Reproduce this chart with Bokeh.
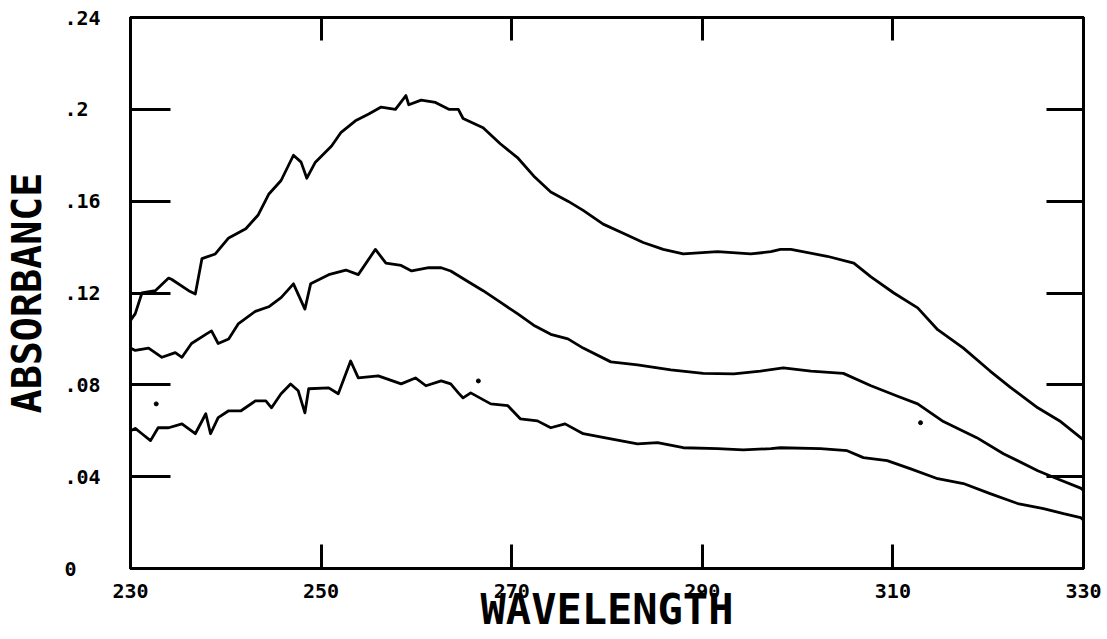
from bokeh.plotting import figure
from bokeh.models import LinearAxis, FixedTicker, Range1d
from bokeh.embed import file_html
from bokeh.resources import INLINE

# Upper curve
wl_a = [230.0, 230.5, 231.2, 232.6, 234.0, 234.3, 236.1, 236.8, 237.5, 238.9, 240.3, 242.1,
        243.4, 244.5, 245.8, 247.1, 247.9, 248.5, 249.4, 251.1, 252.1, 253.6, 255.0, 256.3,
        257.8, 258.9, 259.2, 260.5, 262.0, 263.4, 264.4, 264.9, 267.0, 268.8, 270.6, 272.3,
        274.1, 275.9, 277.5, 279.6, 281.7, 283.8, 285.9, 288.0, 291.6, 295.1, 297.2, 298.2,
        299.3, 303.1, 305.9, 307.7, 310.1, 312.6, 314.7, 317.4, 320.2, 322.3, 325.2, 327.6,
        329.7, 330.0]
abs_a = [0.108, 0.111, 0.120, 0.121, 0.1265, 0.126, 0.121, 0.1196, 0.135, 0.137, 0.144, 0.148,
         0.154, 0.163, 0.169, 0.180, 0.177, 0.170, 0.177, 0.184, 0.190, 0.195, 0.198, 0.201,
         0.200, 0.206, 0.202, 0.204, 0.203, 0.200, 0.200, 0.196, 0.192, 0.185, 0.179, 0.171,
         0.164, 0.160, 0.156, 0.150, 0.146, 0.142, 0.139, 0.137, 0.138, 0.137, 0.138, 0.139,
         0.139, 0.136, 0.133, 0.127, 0.120, 0.1135, 0.104, 0.096, 0.086, 0.079, 0.070, 0.064,
         0.057, 0.056]

# Middle curve
wl_b = [230.0, 230.5, 231.9, 233.3, 234.7, 235.4, 236.4, 237.9, 238.5, 239.2, 240.3, 241.3,
        243.1, 244.5, 245.8, 247.1, 248.3, 248.9, 250.8, 252.6, 253.9, 255.7, 256.8, 258.4,
        259.5, 261.3, 262.6, 263.6, 265.4, 267.0, 268.8, 270.6, 272.3, 274.1, 275.9, 277.5,
        280.4, 283.2, 286.7, 290.1, 293.3, 296.1, 298.5, 301.4, 304.8, 307.7, 310.5, 312.6,
        315.3, 318.8, 321.6, 325.2, 327.3, 329.7, 330.0]
abs_b = [0.096, 0.095, 0.096, 0.092, 0.094, 0.092, 0.098, 0.102, 0.1035, 0.098, 0.100, 0.1065,
         0.112, 0.114, 0.118, 0.124, 0.113, 0.124, 0.128, 0.130, 0.128, 0.139, 0.133, 0.132,
         0.1296, 0.131, 0.131, 0.1296, 0.125, 0.121, 0.116, 0.111, 0.106, 0.102, 0.100, 0.096,
         0.090, 0.0887, 0.0865, 0.085, 0.0848, 0.086, 0.0874, 0.086, 0.085, 0.0796, 0.075, 0.0717,
         0.064, 0.057, 0.050, 0.0426, 0.039, 0.035, 0.034]

# Lower curve
wl_c = [230.0, 230.5, 231.2, 232.1, 232.9, 234.0, 235.4, 236.8, 237.9, 238.4, 239.2, 240.3,
        241.6, 243.1, 244.2, 244.8, 245.8, 246.8, 247.6, 248.3, 248.7, 250.8, 251.8, 253.1,
        253.9, 256.0, 258.4, 259.9, 261.0, 262.6, 263.6, 264.4, 264.9, 265.7, 267.8, 269.6,
        270.9, 272.7, 274.1, 275.6, 277.5, 280.4, 283.2, 285.3, 288.0, 291.6, 294.3, 297.2,
        298.2, 302.4, 305.2, 306.9, 309.4, 311.8, 314.7, 317.4, 320.2, 323.1, 325.8, 327.9,
        329.7, 330.0]
abs_c = [0.060, 0.061, 0.0587, 0.0557, 0.0613, 0.0613, 0.063, 0.0587, 0.0674, 0.0587, 0.0657, 0.0687,
         0.0687, 0.073, 0.073, 0.070, 0.0761, 0.0804, 0.0774, 0.0678, 0.0783, 0.0787, 0.0761, 0.0904,
         0.083, 0.0839, 0.0804, 0.083, 0.0796, 0.0817, 0.0804, 0.0765, 0.0743, 0.0765, 0.0717, 0.0709,
         0.0652, 0.0643, 0.0613, 0.063, 0.0587, 0.0565, 0.0543, 0.0548, 0.0526, 0.0522, 0.0517, 0.0522,
         0.0526, 0.0522, 0.0513, 0.0483, 0.047, 0.0435, 0.0391, 0.037, 0.0326, 0.0283, 0.0261, 0.0239,
         0.0222, 0.021]

# Stray specks on the scan
speck_wl = [232.7, 266.5, 312.9]
speck_abs = [0.0717, 0.0817, 0.0635]

x_ticks = [230, 250, 270, 290, 310, 330]
y_ticks = [0, 0.04, 0.08, 0.12, 0.16, 0.2, 0.24]
y_tick_labels = {0: "0\u00a0\u00a0", 0.04: ".04", 0.08: ".08", 0.12: ".12",
                 0.16: ".16", 0.2: ".2\u00a0", 0.24: ".24"}

FONT = "DejaVu Sans Mono"

p = figure(width=1107, height=639, output_backend="svg", toolbar_location=None,
           x_range=Range1d(230, 330), y_range=Range1d(0, 0.24),
           min_border_left=130, min_border_right=24, min_border_top=17, min_border_bottom=71,
           x_axis_location=None, y_axis_location=None)
p.grid.visible = False
p.background_fill_color = "white"
p.border_fill_color = "white"
p.outline_line_color = "black"
p.outline_line_width = 3

for wl, ab in ((wl_a, abs_a), (wl_b, abs_b), (wl_c, abs_c)):
    p.line(wl, ab, line_color="black", line_width=2.8, line_join="round")
p.scatter(speck_wl, speck_abs, size=4, color="black")

def style(ax, tick_in):
    ax.axis_line_color = "black"
    ax.axis_line_width = 3
    ax.major_tick_line_color = "black"
    ax.major_tick_line_width = 3
    ax.major_tick_in = tick_in
    ax.major_tick_out = 0
    ax.minor_tick_line_color = None
    ax.major_label_text_font = FONT
    ax.major_label_text_font_style = "bold"
    ax.major_label_text_font_size = "20px"
    ax.major_label_text_color = "black"
    ax.axis_label_text_font = FONT
    ax.axis_label_text_font_style = "bold"
    ax.axis_label_text_color = "black"

bottom = LinearAxis(ticker=FixedTicker(ticks=x_ticks), axis_label="WAVELENGTH")
style(bottom, 24)
bottom.major_label_standoff = 15
bottom.axis_label_text_font_size = "42px"
bottom.axis_label_standoff = -16
p.add_layout(bottom, "below")

left = LinearAxis(ticker=FixedTicker(ticks=y_ticks), axis_label="ABSORBANCE",
                  major_label_overrides=y_tick_labels)
style(left, 40)
left.major_label_standoff = 30
left.axis_label_text_font_size = "40px"
left.axis_label_standoff = 11
p.add_layout(left, "left")

top = LinearAxis(ticker=FixedTicker(ticks=x_ticks))
style(top, 23)
top.major_label_text_font_size = "1px"
top.major_label_text_color = None
top.major_label_standoff = 0
p.add_layout(top, "above")

right = LinearAxis(ticker=FixedTicker(ticks=y_ticks))
style(right, 37)
right.major_label_text_font_size = "1px"
right.major_label_text_color = None
right.major_label_standoff = 0
p.add_layout(right, "right")

open("out.html", "w").write(file_html(p, INLINE))
